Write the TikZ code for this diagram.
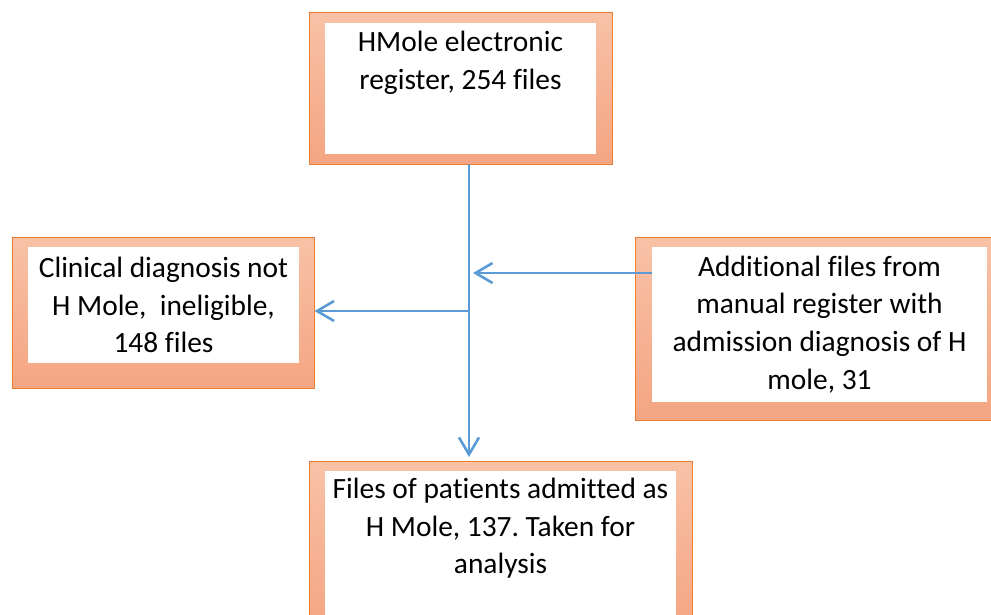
\documentclass[tikz,border=0pt]{standalone}
\usepackage{fontspec}
\setmainfont{Carlito}[Ligatures=NoCommon]
\frenchspacing
\usetikzlibrary{arrows.meta}
\definecolor{borange}{HTML}{ED7D31}
\definecolor{ftop}{HTML}{F8C2A7}
\definecolor{fbot}{HTML}{F4A582}
\definecolor{cblue}{HTML}{5B9BD5}
\tikzset{
  outerbox/.style={draw=borange, line width=1pt, top color=ftop, bottom color=fbot, inner sep=0pt},
  innerbox/.style={fill=white, inner sep=0pt},
  label/.style={align=center, inner sep=0pt, font=\fontsize{29.4}{37.7}\selectfont},
  conn/.style={draw=cblue, line width=2.6pt},
  tip/.style={-{Straight Barb[length=17pt,width=20pt,line width=2.6pt]}}
}
\begin{document}
\begin{tikzpicture}[x=1pt,y=-1pt]
\clip (0,0) rectangle (991,614);
% top box
\node[outerbox, minimum width=303pt, minimum height=152pt] (top) at (460.5,88) {};
\node[innerbox, minimum width=271pt, minimum height=131pt] (topin) at (460.5,88.5) {};
\node[label, anchor=north] (toptxt) at ([yshift=-8pt]topin.north) {HMole electronic\\register, 254 files};
% left box
\node[outerbox, minimum width=302pt, minimum height=151pt] (left) at (163,312.5) {};
\node[innerbox, minimum width=271pt, minimum height=116pt] (leftin) at (163.5,305) {};
\node[label] (lefttxt) at (leftin.center) {Clinical diagnosis not\\H Mole,\ \ ineligible,\\148 files};
% right box
\node[outerbox, minimum width=356pt, minimum height=183pt] (right) at (813,328.5) {};
\node[innerbox, minimum width=335pt, minimum height=155pt] (rightin) at (819.5,324.5) {};
\node[label] (righttxt) at (rightin.center) {Additional files from\\manual register with\\admission diagnosis of H\\mole, 31};
% bottom box
\node[outerbox, minimum width=383pt, minimum height=170pt] (bot) at (500.5,546) {};
\node[innerbox, minimum width=351pt, minimum height=145pt] (botin) at (500.5,543.5) {};
\node[label, anchor=north] (bottxt) at ([yshift=-7pt]botin.north) {Files of patients admitted as\\H Mole, 137. Taken for\\analysis};
% connectors
\coordinate (jin) at (469,273);
\coordinate (jout) at (469,311);
\coordinate (vtop) at (469,164);
\coordinate (vbot) at (469,457);
\draw[conn, tip] (vtop) -- (vbot);
\draw[conn, tip] (rightin.west |- jin) -- ([xshift=4pt]jin);
\draw[conn, tip] (jout) -- (left.east |- jout);
\end{tikzpicture}
\end{document}
